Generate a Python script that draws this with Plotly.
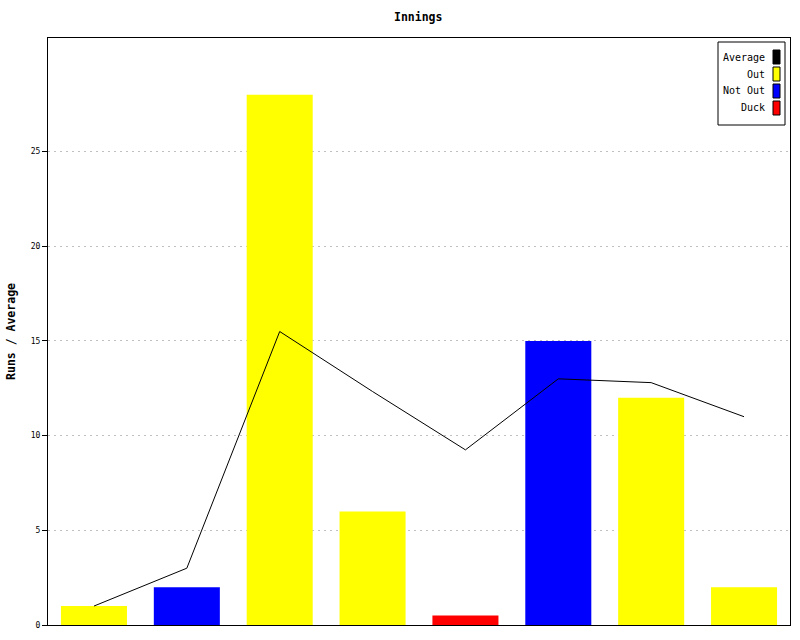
import plotly.graph_objects as go

innings = [1, 2, 3, 4, 5, 6, 7, 8]
runs = [1, 2, 28, 6, 0.5, 15, 12, 2]
kinds = ["Out", "Not Out", "Out", "Out", "Duck", "Not Out", "Out", "Out"]
average = [1, 3, 15.5, 12.33, 9.25, 13, 12.8, 11]
legend_names = ["Average", "Out", "Not Out", "Duck"]
legend_colors = ["#000000", "#ffff00", "#0000ff", "#ff0000"]
color_map = dict(zip(legend_names, legend_colors))
y_ticks = [0, 5, 10, 15, 20, 25]

FONT = "DejaVu Sans Mono"

fig = go.Figure()
fig.add_trace(go.Bar(
    x=innings, y=runs,
    marker=dict(color=[color_map[k] for k in kinds], line=dict(width=0)),
    showlegend=False,
))
fig.add_trace(go.Scatter(
    x=innings, y=average, mode="lines",
    line=dict(color="black", width=1),
    showlegend=False,
))

L, R, T, B = 48, 790, 38, 625
W, H = R - L, B - T
def px(x):
    return (x - L) / W
def py(y):
    return (B - y) / H

shapes = [dict(type="rect", xref="paper", yref="paper",
               x0=px(718), x1=px(785), y0=py(125), y1=py(42),
               line=dict(color="black", width=1), fillcolor="white", layer="above")]
annotations = [dict(text="<b>Innings</b>", xref="paper", yref="paper",
                    x=px(418), y=py(17), xanchor="center", yanchor="middle",
                    showarrow=False, font=dict(family=FONT, size=11.5, color="black"))]
for i, (name, col) in enumerate(zip(legend_names, legend_colors)):
    cy = 57 + i * 17
    shapes.append(dict(type="rect", xref="paper", yref="paper",
                       x0=px(773), x1=px(780), y0=py(cy + 7), y1=py(cy - 7),
                       line=dict(color="black", width=1), fillcolor=col, layer="above"))
    annotations.append(dict(text=name, xref="paper", yref="paper",
                            x=px(767), y=py(cy), xanchor="right", yanchor="middle",
                            showarrow=False, font=dict(family=FONT, size=10, color="black")))

fig.update_layout(
    width=800, height=640,
    margin=dict(l=L, r=800 - R, t=T, b=640 - B),
    paper_bgcolor="white", plot_bgcolor="white",
    bargap=0.289,
    shapes=shapes, annotations=annotations,
    font=dict(family=FONT, color="black"),
)
fig.update_xaxes(range=[0.505, 8.495], showticklabels=False, ticks="", showgrid=False,
                 showline=True, linecolor="black", linewidth=1, mirror=True, zeroline=False)
fig.update_yaxes(range=[0, 31], tickvals=y_ticks, ticks="outside", ticklen=5, tickcolor="black",
                 tickfont=dict(family=FONT, size=8, color="black"),
                 showgrid=True, gridcolor="#c0c0c0", griddash="2px,4px", gridwidth=1,
                 showline=True, linecolor="black", linewidth=1, mirror=True, zeroline=False,
                 title=dict(text="<b>Runs / Average</b>", font=dict(family=FONT, size=11.5, color="black"),
                            standoff=12))

fig.write_html("out.html", config={"displayModeBar": False},
               post_script="document.body.style.margin='0';document.body.style.padding='0';")
